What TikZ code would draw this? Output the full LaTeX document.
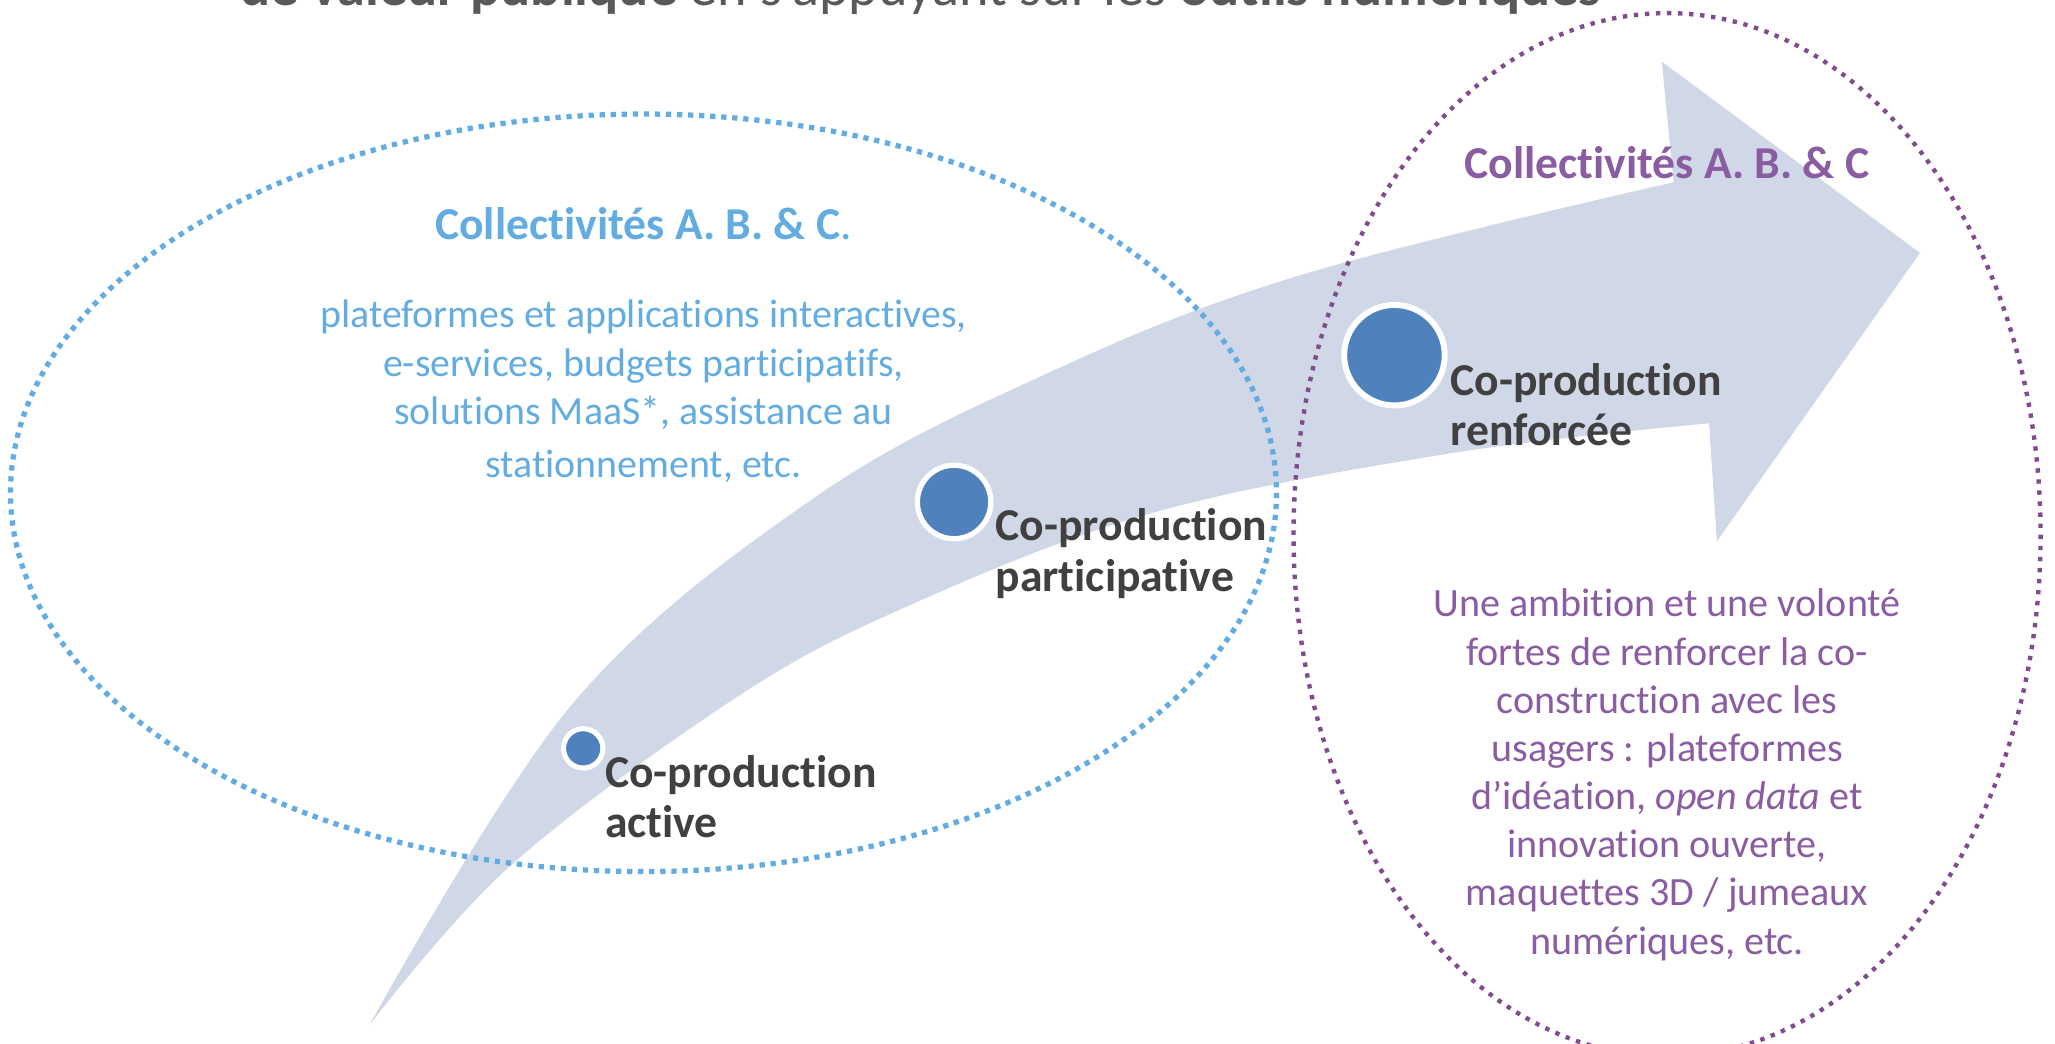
\documentclass[tikz,border=0pt]{standalone}
\usepackage{fontspec}
\setmainfont{Carlito}[Ligatures=CommonOff]
\definecolor{arrowfill}{RGB}{208,216,232}
\definecolor{bluetxt}{RGB}{98,172,226}
\definecolor{blueline}{RGB}{98,172,226}
\definecolor{purptxt}{RGB}{138,92,162}
\definecolor{purpline}{RGB}{128,76,142}
\definecolor{darktxt}{RGB}{64,64,64}
\definecolor{dotblue}{RGB}{79,129,189}
\definecolor{titlegray}{RGB}{89,89,89}
\tikzset{
  bluedots/.style={draw=blueline, line width=1.14pt, dash pattern=on 1.14pt off 1.26pt},
  purpdots/.style={draw=purpline, line width=0.95pt, dash pattern=on 0.95pt off 1.45pt},
  stagedot/.style={circle, inner sep=0pt, fill=dotblue, draw=white},
  stagelab/.style={inner sep=0pt, align=left, text=darktxt, font=\fontsize{9.9}{10.9}\selectfont\bfseries},
  bluebody/.style={inner sep=0pt, align=center, text=bluetxt, font=\fontsize{8.65}{10.5}\selectfont},
  purpbody/.style={inner sep=0pt, align=center, text=purptxt, font=\fontsize{8.7}{10.45}\selectfont},
  heading/.style={inner sep=0pt, font=\fontsize{9.9}{11}\selectfont\bfseries}
}
\begin{document}
\begin{tikzpicture}[x=0.01cm, y=-0.01cm]
\useasboundingbox (0,0) rectangle (1568,796);
\clip (0,0) rectangle (1568,796);
% big curved arrow
\fill[arrowfill]
  plot[smooth, tension=0.6] coordinates {(282,782) (436,538) (621,380) (801,284) (992,210) (1277,139)}
  -- (1268,47) -- (1465,193) -- (1310,413) -- (1304,323)
  -- plot[smooth, tension=0.6] coordinates {(1304,323) (1106,346) (877,392) (687,465) (559,534) (389,661) (282,782)}
  -- cycle;
% dotted ellipses
\draw[bluedots] (491,376) ellipse [x radius=483, y radius=289];
\draw[purpdots] (1272,408) ellipse [x radius=285, y radius=398];
% stage dots
\node[stagedot, minimum size=8.54pt, line width=1.1pt] (d1) at (445,571) {};
\node[stagedot, minimum size=15.94pt, line width=1.14pt] (d2) at (728,383) {};
\node[stagedot, minimum size=21.8pt, line width=1.28pt] (d3) at (1064,271) {};
% stage labels (base = last line)
\node[stagelab, anchor=base west] (l1) at (461,639) {Co-production\\active};
\node[stagelab, anchor=base west] (l2) at (759,451) {Co-production\\participative};
\node[stagelab, anchor=base west] (l3) at (1106,340) {Co-production\\renforcée};
% top title (cut off)
\node[inner sep=0pt, anchor=base west, text=titlegray, font=\fontsize{12.2}{14}\selectfont] (title) at (183,4)
  {\textbf{de valeur publique} en s’appuyant sur les \textbf{outils numériques}};
% blue group
\node[heading, text=bluetxt, anchor=base] (bt) at (491,183) {Collectivités A. B. \& C\mdseries .};
\node[bluebody, anchor=base] (bb) at (491,364)
  {plateformes et applications interactives,\\e-services, budgets participatifs,\\solutions MaaS*, assistance au\\[0.9pt]stationnement, etc.};
% purple group
\node[heading, text=purptxt, anchor=base] (pt) at (1272,136) {Collectivités A. B. \& C};
\node[purpbody, anchor=base] (pb) at (1272,728)
  {Une ambition et une volonté\\fortes de renforcer la co-\\construction avec les\\usagers : plateformes\\d’idéation, \textit{open data} et\\innovation ouverte,\\maquettes 3D / jumeaux\\numériques, etc.};
\end{tikzpicture}
\end{document}
